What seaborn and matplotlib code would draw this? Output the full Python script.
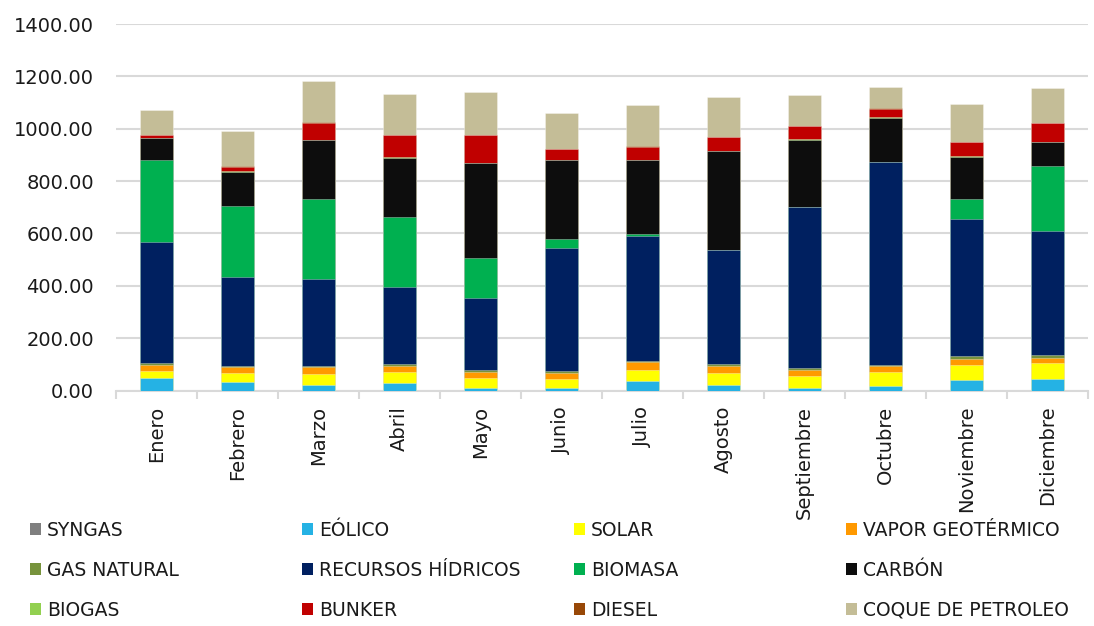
import numpy as np
import pandas as pd
import matplotlib
matplotlib.use("Agg")
import matplotlib.pyplot as plt
import seaborn as sns
from matplotlib.patches import Patch

meses = ["Enero", "Febrero", "Marzo", "Abril", "Mayo", "Junio", "Julio",
         "Agosto", "Septiembre", "Octubre", "Noviembre", "Diciembre"]

# Generación mensual por fuente (GWh)
syngas = [0, 0, 0, 0, 0, 0, 0, 0, 0, 0, 0, 0]
eolico = [47, 32, 22, 27, 8, 11, 36, 20, 8, 19, 42, 45]
solar = [29, 34, 42, 42, 40, 34, 43, 48, 47, 50, 57, 60]
vapor_geotermico = [23, 23, 25, 25, 24, 23, 28, 24, 23, 24, 23, 20]
gas_natural = [5, 5, 5, 6, 6, 6, 6, 8, 8, 6, 8, 9]
recursos_hidricos = [464, 339, 332, 297, 276, 472, 479, 436, 614, 773, 527, 477]
biomasa = [312, 272, 306, 266, 153, 33, 6, 0, 1, 0, 75, 247]
carbon = [83, 131, 223, 227, 362, 301, 282, 377, 256, 170, 161, 90]
biogas = [2, 1, 1, 1, 1, 1, 1, 2, 2, 2, 1, 2]
bunker = [11, 18, 67, 85, 106, 41, 51, 52, 50, 33, 55, 72]
diesel = [1, 1, 1, 1, 1, 1, 1, 1, 1, 1, 1, 1]
coque_petroleo = [96, 134, 159, 155, 162, 138, 156, 154, 120, 80, 143, 134]

fuentes = ["SYNGAS", "EÓLICO", "SOLAR", "VAPOR GEOTÉRMICO", "GAS NATURAL",
           "RECURSOS HÍDRICOS", "BIOMASA", "CARBÓN", "BIOGAS", "BUNKER",
           "DIESEL", "COQUE DE PETROLEO"]
series = [syngas, eolico, solar, vapor_geotermico, gas_natural,
          recursos_hidricos, biomasa, carbon, biogas, bunker, diesel,
          coque_petroleo]
colores = ["#7F7F7F", "#25B2E4", "#FFFF00", "#FF9900", "#77933C",
           "#002060", "#00B050", "#0D0D0D", "#92D050", "#C00000",
           "#984807", "#C4BD97"]

sns.set_theme(style="white")
plt.rcParams["font.family"] = ["DejaVu Sans"]

df = pd.DataFrame({f: v for f, v in zip(fuentes, series)}, index=meses)
acumulado = df.cumsum(axis=1)

fig = plt.figure(figsize=(10.94, 6.26), dpi=100)
ax = fig.add_axes([116 / 1094, 1 - 390.5 / 626, (1088 - 116) / 1094, (390.5 - 24) / 626])

# Barras apiladas: se dibujan los totales acumulados de arriba hacia abajo
for fuente, color in reversed(list(zip(fuentes, colores))):
    sns.barplot(x=meses, y=acumulado[fuente].values, color=color, width=0.4,
                edgecolor=(1, 1, 1, 0.45), linewidth=0.5, errorbar=None,
                saturation=1, ax=ax, zorder=3)

ax.set_ylim(0, 1400)
ax.set_xlim(-0.5, len(meses) - 0.5)
ax.set_yticks(np.arange(0, 1401, 200))
ax.set_yticklabels([f"{v:.2f}" for v in np.arange(0, 1401, 200)])
ax.yaxis.grid(True, color="#D9D9D9", linewidth=1.5, zorder=0)
ax.set_axisbelow(True)
for s in ["top", "right", "left"]:
    ax.spines[s].set_visible(False)
ax.spines["bottom"].set_color("#D9D9D9")
ax.spines["bottom"].set_linewidth(1.5)

ax.tick_params(axis="y", length=0, pad=16, labelsize=14, labelcolor="#1a1a1a")
ax.tick_params(axis="x", which="major", length=0, pad=11, labelsize=14,
               labelrotation=90, labelcolor="#1a1a1a")
ax.set_xticks(np.arange(-0.5, len(meses)), minor=True)
ax.tick_params(axis="x", which="minor", length=6, width=1.5, color="#D9D9D9",
               bottom=True)
ax.set_xlabel("")
ax.set_ylabel("")

# Leyenda en cuatro columnas de ancho uniforme
col_x = [30, 302, 574, 846]
for j, x in enumerate(col_x):
    idx = [j, j + 4, j + 8]
    handles = [Patch(facecolor=colores[i], edgecolor="none") for i in idx]
    labels = [fuentes[i] for i in idx]
    fig.legend(handles, labels, loc="upper left",
               bbox_to_anchor=(x / 1094, 1 - 521 / 626), frameon=False,
               fontsize=13.5, borderpad=0, borderaxespad=0,
               handlelength=0.6, handleheight=0.6, handletextpad=0.3,
               labelspacing=1.12, labelcolor="#1a1a1a")

fig.savefig("out.png", dpi=100)
